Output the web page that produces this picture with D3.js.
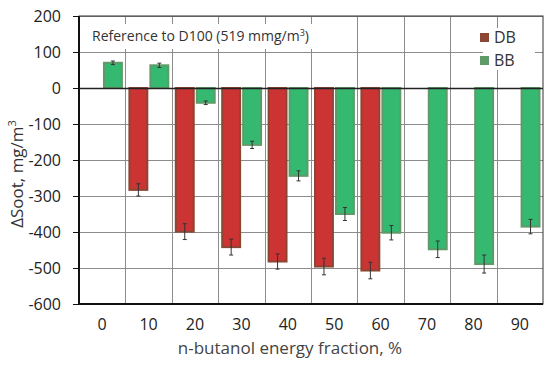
<!DOCTYPE html>
<html>
<head>
<meta charset="utf-8">
<script src="https://cdn.jsdelivr.net/npm/d3@7"></script>
<style>
  body { margin: 0; background: #fff; }
  svg { display: block; font-family: "Open Sans", "Liberation Sans", sans-serif; }
</style>
</head>
<body>
<svg id="chart" width="550" height="366"></svg>
<script>
// ---- data ----
const categories = ['0', '10', '20', '30', '40', '50', '60', '70', '80', '90'];
const seriesNames = ['DB', 'BB'];
const dbValues = [0, -283, -399, -442, -482, -496, -507, null, null, null];
const dbErrors = [0, 17, 22, 22, 21, 23, 23, 0, 0, 0];
const bbValues = [70, 63, -41, -158, -244, -350, -402, -448, -489, -385];
const bbErrors = [5, 6, 5, 10, 14, 18, 20, 23, 25, 20];
const yTicks = [200, 100, 0, -100, -200, -300, -400, -500, -600];

const fills = { DB: '#cc3333', BB: '#35b870' };
const edges = { DB: '#8c4634', BB: '#5f9a68' };

// ---- layout ----
const svg = d3.select('#chart');
const margin = { top: 16, right: 7, bottom: 62, left: 79 };
const width = 550, height = 366;
const x0 = d3.scaleBand().domain(categories).range([margin.left, width - margin.right]).padding(0);
const x1 = d3.scaleBand().domain(seriesNames).range([3, x0.bandwidth() - 2.5]).paddingInner(0.05);
const y = d3.scaleLinear().domain([-600, 200]).range([height - margin.bottom, margin.top]);

// grid
const grid = svg.append('g').attr('stroke', '#8c8c8c').attr('stroke-width', 1);
grid.selectAll('line.h').data(yTicks).join('line')
  .attr('x1', margin.left).attr('x2', width - margin.right)
  .attr('y1', d => Math.round(y(d)) + 0.5).attr('y2', d => Math.round(y(d)) + 0.5);
grid.selectAll('line.v').data(categories.slice(1)).join('line')
  .attr('y1', margin.top).attr('y2', height - margin.bottom)
  .attr('x1', d => Math.round(x0(d)) + 0.5).attr('x2', d => Math.round(x0(d)) + 0.5);

// white boxes behind the note and legend (they hide the grid)
svg.append('rect').attr('x', 84).attr('y', 24).attr('width', 266).attr('height', 25).attr('fill', '#fff');
svg.append('rect').attr('x', 483).attr('y', 28).attr('width', 52).attr('height', 42).attr('fill', '#fff');

// bars
const rows = categories.map((c, i) => ({
  cat: c,
  items: [
    { key: 'DB', value: dbValues[i], err: dbErrors[i] },
    { key: 'BB', value: bbValues[i], err: bbErrors[i] }
  ].filter(d => d.value !== null)
}));

const groups = svg.append('g').selectAll('g').data(rows).join('g')
  .attr('transform', d => `translate(${x0(d.cat)},0)`);

groups.selectAll('rect').data(d => d.items).join('rect')
  .attr('x', d => x1(d.key) + 1)
  .attr('width', x1.bandwidth() - 2)
  .attr('y', d => y(Math.max(0, d.value)))
  .attr('height', d => Math.abs(y(d.value) - y(0)))
  .attr('fill', d => fills[d.key])
  .attr('stroke', d => edges[d.key])
  .attr('stroke-width', 2);

// error bars
const eb = groups.selectAll('g.err').data(d => d.items.filter(e => e.err > 0)).join('g')
  .attr('class', 'err').attr('stroke', '#333').attr('stroke-width', 1);
const cx = d => x1(d.key) + x1.bandwidth() / 2;
eb.append('line')
  .attr('x1', cx).attr('x2', cx)
  .attr('y1', d => y(d.value + d.err)).attr('y2', d => y(d.value - d.err));
eb.append('line')
  .attr('x1', d => cx(d) - 2).attr('x2', d => cx(d) + 2)
  .attr('y1', d => y(d.value + d.err)).attr('y2', d => y(d.value + d.err));
eb.append('line')
  .attr('x1', d => cx(d) - 2).attr('x2', d => cx(d) + 2)
  .attr('y1', d => y(d.value - d.err)).attr('y2', d => y(d.value - d.err));

// zero line and frame
svg.append('line').attr('x1', margin.left).attr('x2', width - margin.right)
  .attr('y1', Math.round(y(0)) + 0.5).attr('y2', Math.round(y(0)) + 0.5)
  .attr('stroke', '#222').attr('stroke-width', 1.5);
svg.append('rect').attr('x', margin.left).attr('y', margin.top)
  .attr('width', width - margin.right - margin.left).attr('height', height - margin.bottom - margin.top)
  .attr('fill', 'none').attr('stroke', '#333').attr('stroke-width', 1);
svg.append('line').attr('x1', margin.left).attr('x2', margin.left)
  .attr('y1', margin.top).attr('y2', height - margin.bottom).attr('stroke', '#111').attr('stroke-width', 2);
svg.append('line').attr('x1', margin.left).attr('x2', width - margin.right)
  .attr('y1', height - margin.bottom).attr('y2', height - margin.bottom).attr('stroke', '#111').attr('stroke-width', 2);

// y axis
const yAxis = svg.append('g').attr('transform', `translate(${margin.left},0)`)
  .call(d3.axisLeft(y).tickValues(yTicks).tickFormat(d => String(d)).tickSize(6).tickPadding(12));
yAxis.select('.domain').remove();
yAxis.selectAll('.tick line').attr('stroke', '#111');
yAxis.selectAll('text').attr('font-size', 16).attr('fill', '#222')
  .attr('font-family', '"Open Sans", sans-serif');

// x axis labels
const xAxis = svg.append('g').attr('transform', `translate(0,${height - margin.bottom})`)
  .call(d3.axisBottom(x0).tickSize(0).tickPadding(15));
xAxis.select('.domain').remove();
xAxis.selectAll('text').attr('font-size', 16).attr('fill', '#222')
  .attr('font-family', '"Open Sans", sans-serif');

// titles
svg.append('text').attr('x', 290).attr('y', 354).attr('text-anchor', 'middle')
  .attr('font-size', 17).attr('fill', '#444').text('n-butanol energy fraction, %');
svg.append('text').attr('transform', 'translate(23,174) rotate(-90)').attr('text-anchor', 'middle')
  .attr('font-size', 17).attr('fill', '#333')
  .html('ΔSoot, mg/m<tspan dy="-7" font-size="11">3</tspan>');

// note
svg.append('text').attr('x', 92).attr('y', 41).attr('font-size', 14).attr('fill', '#333')
  .html('Reference to D100 (519 mmg/m<tspan dy="-5" font-size="9">3</tspan><tspan dy="5">)</tspan>');

// legend
const legend = svg.append('g').attr('transform', 'translate(480,33)');
const li = legend.selectAll('g').data(seriesNames).join('g')
  .attr('transform', (d, i) => `translate(0,${i * 23})`);
li.append('rect').attr('width', 9).attr('height', 9).attr('fill', d => edges[d]);
li.append('text').attr('x', 14).attr('y', 10).attr('font-size', 16).attr('fill', '#333').text(d => d);
</script>
</body>
</html>
